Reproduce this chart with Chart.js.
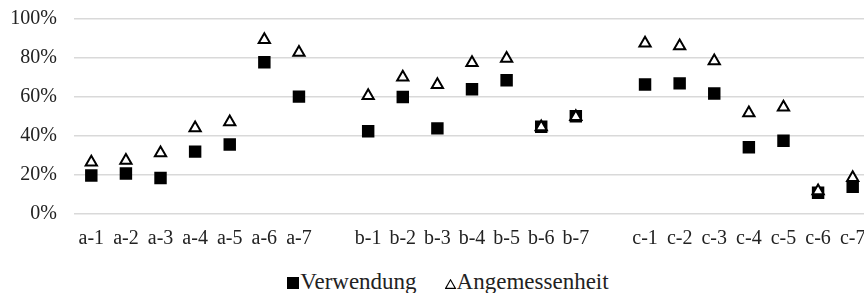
<!DOCTYPE html>
<html>
<head>
<meta charset="utf-8">
<script src="https://cdn.jsdelivr.net/npm/chart.js@4.4.0/dist/chart.umd.min.js"></script>
<style>
  html, body { margin: 0; padding: 0; background: #fff; overflow: hidden; }
  #wrap { position: absolute; left: 0; top: 0; width: 884px; height: 248px; }
  #legend {
    position: absolute; left: 0; top: 269.5px; width: 896px;
    display: flex; justify-content: center;
    font: 23px "Liberation Serif", "Times New Roman", serif;
    line-height: 23px; color: #222; white-space: nowrap;
  }
  .sq { display: inline-block; width: 12px; height: 12px; background: #000; margin-right: 1px; }
  .tri { margin-right: 1px; }
  .gap { display: inline-block; width: 28px; }
</style>
</head>
<body>
<div id="wrap"><canvas id="chart" width="884" height="248"></canvas></div>
<div id="legend">
  <span><span class="sq"></span>Verwendung</span>
  <span class="gap"></span>
  <span><svg class="tri" width="11" height="10" viewBox="0 0 11 10"><polygon points="5.5,0.8 10.4,9.4 0.6,9.4" fill="#fff" stroke="#000" stroke-width="1.1"/></svg>Angemessenheit</span>
</div>
<script>
// ========== DATA ==========
const labels = [
  'a-1', 'a-2', 'a-3', 'a-4', 'a-5', 'a-6', 'a-7', '',
  'b-1', 'b-2', 'b-3', 'b-4', 'b-5', 'b-6', 'b-7', '',
  'c-1', 'c-2', 'c-3', 'c-4', 'c-5', 'c-6', 'c-7'
];

// Anteile in %
const verwendung = [
  19.7, 20.8, 18.5, 32.0, 35.6, 77.8, 60.2, null,
  42.4, 60.0, 43.9, 64.0, 68.6, 44.7, 50.1, null,
  66.4, 67.0, 61.8, 34.2, 37.6, 10.9, 13.9
];

const angemessenheit = [
  26.5, 27.5, 31.3, 44.1, 47.2, 89.4, 82.8, null,
  60.7, 70.1, 66.3, 77.6, 79.7, 44.6, 49.9, null,
  87.6, 86.2, 78.5, 51.8, 54.7, 11.8, 18.6
];

const yMin = 0, yMax = 100, yStep = 20;

// ========== CHART ==========
function drawChart() {
  Chart.defaults.font.family = 'Liberation Serif';
  Chart.defaults.font.size = 20;
  Chart.defaults.color = '#222';

  new Chart(document.getElementById('chart').getContext('2d'), {
    type: 'line',
    data: {
      labels,
      datasets: [
        {
          label: 'Angemessenheit',
          data: angemessenheit,
          showLine: false,
          pointStyle: 'triangle',
          pointRadius: 6.5,
          pointBackgroundColor: '#fff',
          pointBorderColor: '#000',
          pointBorderWidth: 2,
          order: 0
        },
        {
          label: 'Verwendung',
          data: verwendung,
          showLine: false,
          pointStyle: 'rect',
          pointRadius: 8.8,
          pointBackgroundColor: '#000',
          pointBorderColor: '#000',
          pointBorderWidth: 0,
          order: 1
        }
      ]
    },
    options: {
      responsive: false,
      animation: false,
      devicePixelRatio: 1,
      layout: { padding: { left: 0, right: 14, top: 19, bottom: 0 } },
      plugins: { legend: { display: false }, tooltip: { enabled: false } },
      scales: {
        x: {
          type: 'category',
          offset: true,
          grid: { display: false },
          border: { display: false },
          ticks: { autoSkip: false, maxRotation: 0, minRotation: 0, padding: 5 },
          afterFit: s => { s.height = 34; s.paddingLeft = 0; s.paddingRight = 0; }
        },
        y: {
          min: yMin,
          max: yMax,
          grid: { color: '#d9d9d9', lineWidth: 1.5, drawTicks: false },
          border: { display: false },
          ticks: { stepSize: yStep, padding: 17, callback: v => v + '%' },
          // keep label gap but not the extra top/bottom room it adds
          afterFit: s => { s.width = 74; s.paddingTop = 0; s.paddingBottom = 0; }
        }
      }
    }
  });
}

document.fonts.load('20px "Liberation Serif"').then(drawChart, drawChart);
</script>
</body>
</html>
